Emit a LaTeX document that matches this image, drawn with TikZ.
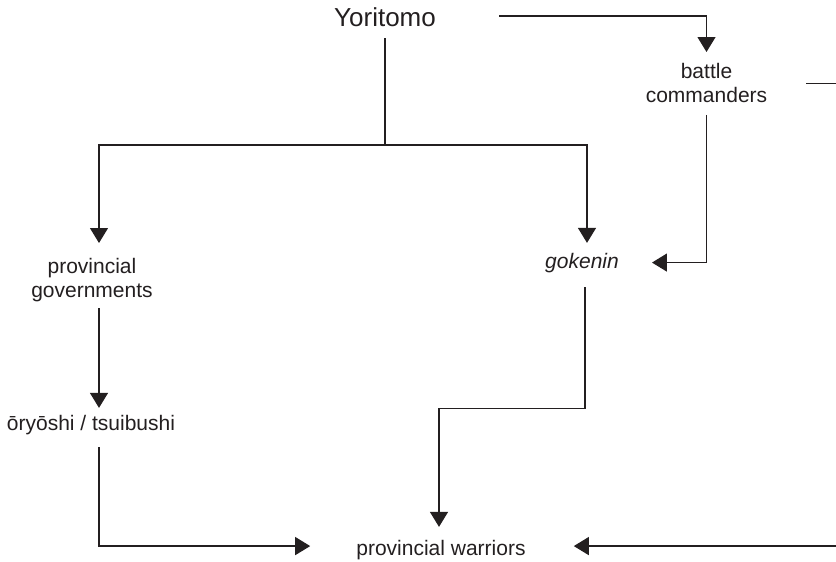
\documentclass[tikz,border=0pt]{standalone}
\usepackage{fontspec}
\setmainfont{Liberation Sans}
\usetikzlibrary{arrows.meta}
\definecolor{ink}{HTML}{231F20}
\tikzset{
  lbl/.style={inner sep=0pt, text=ink, font=\fontsize{21}{24}\selectfont, align=center},
  title/.style={inner sep=0pt, text=ink, font=\fontsize{26}{30}\selectfont},
  link/.style={draw=ink, line width=1.2pt},
  arr/.style={link, -{Triangle[length=15pt,width=18pt]}},
}
\begin{document}
\begin{tikzpicture}[x=1pt,y=-1pt]
\useasboundingbox (0,0) rectangle (836,562);

% labels
\node[title, anchor=base] (yor) at (385,27) {Yoritomo};
\node[lbl, anchor=north, inner ysep=11.5pt] (bc) at (706.5,52) {battle\\commanders};
\node[lbl, anchor=north] (pg) at (92,257.7) {provincial\\governments};
\node[lbl, anchor=base, font=\fontsize{21}{24}\selectfont\itshape] (gok) at (582,268) {gokenin};
\node[lbl, anchor=base] (ory) at (91,430) {ōryōshi / tsuibushi};
\node[lbl, anchor=base] (pw) at (441,555) {provincial warriors};

% branch point below Yoritomo
\coordinate (split) at (385,145);

% connectors
\draw[arr] ([xshift=63pt,yshift=1.7pt]yor.east) -| (bc.north);
\draw[link] ([yshift=-11pt]yor.south) -- (split);
\draw[arr] (split) -| ([xshift=7pt,yshift=14.7pt]pg.north);
\draw[arr] (split) -| ([xshift=5pt,yshift=9.7pt]gok.north);
\draw[arr] (bc.south) |- ([xshift=33pt]gok.east);
\draw[arr] ([xshift=7pt,yshift=-6.6pt]pg.south) -- ([xshift=8pt,yshift=6.7pt]ory.north);
\draw[arr] ([xshift=3pt,yshift=-14.6pt]gok.south) -- ++(0,121) -| ([xshift=-2pt,yshift=12.7pt]pw.north);
\draw[arr] ([xshift=8pt,yshift=-12.6pt]ory.south) |- ([xshift=-46pt,yshift=3.5pt]pw.west);
\begin{scope}
  \clip (0,0) rectangle (836,562);
  \draw[arr] ([xshift=39pt]bc.east) -- ++(40,0) |- ([xshift=48pt,yshift=3.5pt]pw.east);
\end{scope}
\end{tikzpicture}
\end{document}
